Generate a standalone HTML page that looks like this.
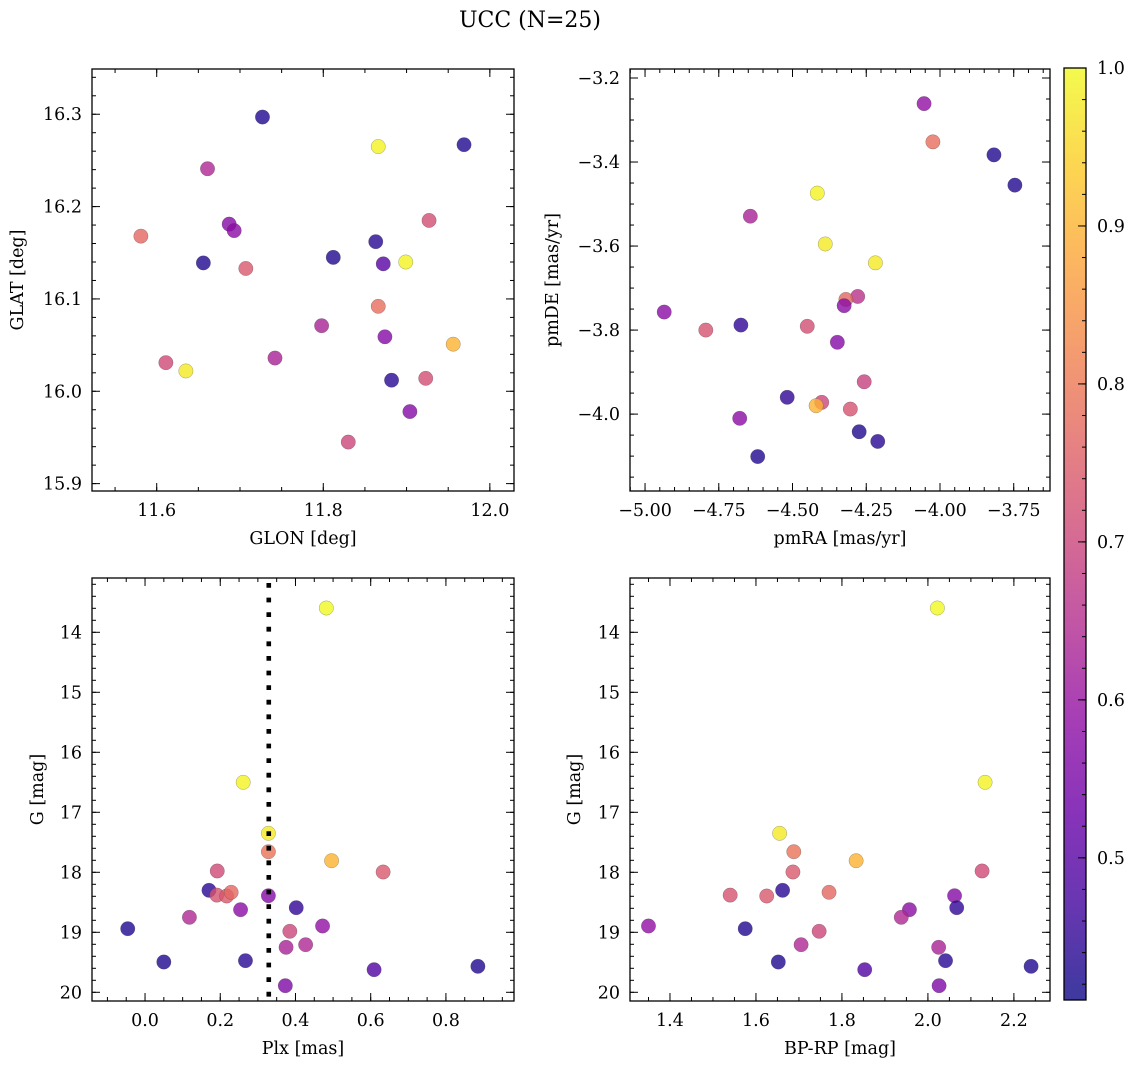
<!DOCTYPE html>
<html>
<head>
<meta charset="utf-8">
<style>
  html,body{margin:0;padding:0;background:#fff;}
  body{width:1136px;height:1068px;overflow:hidden;}
  svg text{font-family:"DejaVu Serif","Liberation Serif",serif;fill:#000;}
</style>
</head>
<body>
<svg id="fig" width="1136" height="1068" viewBox="0 0 1136 1068" xmlns="http://www.w3.org/2000/svg">
  <defs>
    <linearGradient id="plasmaGrad" x1="0" y1="1" x2="0" y2="0">
      <stop offset="0" stop-color="#0d0887"/>
      <stop offset="0.1" stop-color="#41049d"/>
      <stop offset="0.2" stop-color="#6a00a8"/>
      <stop offset="0.3" stop-color="#8f0da4"/>
      <stop offset="0.4" stop-color="#b12a90"/>
      <stop offset="0.5" stop-color="#cc4778"/>
      <stop offset="0.6" stop-color="#e16462"/>
      <stop offset="0.7" stop-color="#f2844b"/>
      <stop offset="0.8" stop-color="#fca636"/>
      <stop offset="0.9" stop-color="#fcce25"/>
      <stop offset="1" stop-color="#f0f921"/>
    </linearGradient>
  </defs>
  <text x="530" y="27" font-size="22" text-anchor="middle">UCC (N=25)</text>
</svg>
<script>
// ---- data: sky panel ----
const glon = [11.727,11.866,11.969,11.661,11.581,11.687,11.693,11.656,11.707,11.812,11.863,11.927,11.872,11.899,11.866,11.798,11.874,11.611,11.635,11.742,11.956,11.882,11.923,11.904,11.830];
const glat = [16.297,16.265,16.267,16.241,16.168,16.181,16.174,16.139,16.133,16.145,16.162,16.185,16.138,16.140,16.092,16.071,16.059,16.031,16.022,16.036,16.051,16.012,16.014,15.978,15.945];
const probSky = [0.43,0.99,0.43,0.64,0.77,0.57,0.58,0.43,0.74,0.43,0.44,0.72,0.50,0.99,0.78,0.63,0.57,0.71,0.98,0.63,0.90,0.44,0.72,0.57,0.70];
// ---- data: proper motion panel ----
const pmra = [-4.054,-4.024,-3.817,-3.746,-4.416,-4.643,-4.389,-4.219,-4.279,-4.319,-4.325,-4.935,-4.794,-4.675,-4.450,-4.348,-4.257,-4.518,-4.401,-4.420,-4.304,-4.679,-4.274,-4.211,-4.618];
const pmde = [-3.261,-3.352,-3.383,-3.455,-3.474,-3.529,-3.595,-3.640,-3.720,-3.727,-3.742,-3.757,-3.800,-3.788,-3.791,-3.829,-3.923,-3.960,-3.972,-3.980,-3.988,-4.010,-4.042,-4.065,-4.101];
const probPm = [0.59,0.78,0.43,0.43,0.99,0.63,0.98,0.98,0.66,0.77,0.58,0.58,0.73,0.45,0.72,0.57,0.69,0.45,0.70,0.90,0.73,0.58,0.43,0.44,0.43];
// ---- data: CMD panels (shared star order) ----
const plx  = [0.482,0.261,0.328,0.328,0.496,0.192,0.633,0.170,0.191,0.217,0.229,0.328,0.402,0.254,0.118,-0.046,0.472,0.385,0.427,0.375,0.050,0.267,0.609,0.885,0.373];
const bprp = [2.022,2.133,1.655,1.688,1.833,2.126,1.686,1.662,1.540,1.625,1.770,2.062,2.067,1.957,1.938,1.575,1.350,1.747,1.705,2.025,1.652,2.041,1.853,2.240,2.026];
const gmag = [13.595,16.50,17.35,17.657,17.807,17.978,17.995,18.30,18.38,18.395,18.333,18.39,18.59,18.623,18.75,18.94,18.895,18.983,19.207,19.25,19.495,19.473,19.623,19.567,19.89];
const probCmd = [1.0,0.99,0.98,0.79,0.90,0.71,0.74,0.44,0.73,0.74,0.77,0.57,0.45,0.58,0.64,0.43,0.59,0.70,0.64,0.63,0.43,0.44,0.49,0.43,0.56];
const plxMedian = [0.329];
// ---- colorbar ----
const cbarTicks = [0.5,0.6,0.7,0.8,0.9,1.0];
const cbarRange = [0.41,1.0];

const NS = 'http://www.w3.org/2000/svg';
const svg = document.getElementById('fig');
const stops = [[13,8,135],[65,4,157],[106,0,168],[143,13,164],[177,42,144],[204,71,120],[225,100,98],[242,132,75],[252,166,54],[252,206,37],[240,249,33]];
function cmap(v){
  let t=(v-cbarRange[0])/(cbarRange[1]-cbarRange[0]); t=Math.max(0,Math.min(1,t));
  const f=t*10, i=Math.min(9,Math.floor(f)), r=f-i;
  const c=stops[i].map((a,k)=>Math.round(a+(stops[i+1][k]-a)*r));
  return 'rgb('+c.join(',')+')';
}
function mk(tag, attrs, parent){
  const e=document.createElementNS(NS,tag);
  for(const k in attrs) e.setAttribute(k,attrs[k]);
  (parent||svg).appendChild(e); return e;
}
function fmt(v,d){ const s=Math.abs(v).toFixed(d); return (v<0 && parseFloat(s)!==0?'\u2212':'')+s; }
function ticks(lo,hi,step){
  const a=[]; const s=Math.ceil(Math.min(lo,hi)/step-1e-6), e=Math.floor(Math.max(lo,hi)/step+1e-6);
  for(let i=s;i<=e;i++) a.push(+(i*step).toFixed(6)); return a;
}

function panel(cfg){
  const g=mk('g',{});
  
  
  const b=cfg.box;
  const sx=v=>b.x0+(v-cfg.xlim[0])/(cfg.xlim[1]-cfg.xlim[0])*(b.x1-b.x0);
  const sy=v=>b.y0+(v-cfg.ylim[0])/(cfg.ylim[1]-cfg.ylim[0])*(b.y1-b.y0);
  // points
  for(let i=0;i<cfg.xs.length;i++){
    const c=mk('circle',{cx:sx(cfg.xs[i]),cy:sy(cfg.ys[i]),r:7.2,fill:cmap(cfg.cs[i]),'fill-opacity':0.8,stroke:'rgba(60,60,60,0.45)','stroke-width':0.5},g);
    
    
  }
  // vertical line (on top of points)
  if(cfg.vline){
    const l=mk('line',{x1:sx(cfg.vline),x2:sx(cfg.vline),y1:b.y0+5,y2:b.y1,stroke:'#000','stroke-width':4.6,'stroke-dasharray':'4.8 9.8'},g);
    
    
  }
  // frame
  const fr=mk('rect',{x:b.x0,y:b.y0,width:b.x1-b.x0,height:b.y1-b.y0,fill:'none',stroke:'#000','stroke-width':1.3},g);
  
  
  // x ticks
  ticks(cfg.xlim[0],cfg.xlim[1],cfg.xminor).forEach(v=>{
    const x=sx(v);
    mk('line',{x1:x,x2:x,y1:b.y1,y2:b.y1-4,stroke:'#000','stroke-width':1},g);
    mk('line',{x1:x,x2:x,y1:b.y0,y2:b.y0+4,stroke:'#000','stroke-width':1},g);
  });
  ticks(cfg.xlim[0],cfg.xlim[1],cfg.xmajor).forEach(v=>{
    const x=sx(v);
    mk('line',{x1:x,x2:x,y1:b.y1,y2:b.y1-8,stroke:'#000','stroke-width':1},g);
    mk('line',{x1:x,x2:x,y1:b.y0,y2:b.y0+8,stroke:'#000','stroke-width':1},g);
    const t=mk('text',{x:x,y:b.y1+25,'font-size':17.5,'text-anchor':'middle'},g);
    t.textContent=fmt(v,cfg.xdec);
    
    
  });
  ticks(cfg.ylim[0],cfg.ylim[1],cfg.yminor).forEach(v=>{
    const y=sy(v);
    mk('line',{x1:b.x0,x2:b.x0+4,y1:y,y2:y,stroke:'#000','stroke-width':1},g);
    mk('line',{x1:b.x1,x2:b.x1-4,y1:y,y2:y,stroke:'#000','stroke-width':1},g);
  });
  ticks(cfg.ylim[0],cfg.ylim[1],cfg.ymajor).forEach(v=>{
    const y=sy(v);
    mk('line',{x1:b.x0,x2:b.x0+8,y1:y,y2:y,stroke:'#000','stroke-width':1},g);
    mk('line',{x1:b.x1,x2:b.x1-8,y1:y,y2:y,stroke:'#000','stroke-width':1},g);
    const t=mk('text',{x:b.x0-10,y:y+6,'font-size':17.5,'text-anchor':'end'},g);
    t.textContent=fmt(v,cfg.ydec);
    
    
  });
  const xl=mk('text',{x:(b.x0+b.x1)/2,y:b.y1+53,'font-size':17.5,'text-anchor':'middle'},g);
  xl.textContent=cfg.xlabel;
  
  
  const yl=mk('text',{x:0,y:0,'font-size':17.5,'text-anchor':'middle',transform:'translate('+cfg.ylx+','+((b.y0+b.y1)/2)+') rotate(-90)'},g);
  yl.textContent=cfg.ylabel;
  
  
}

panel({name:'sky-panel',box:{x0:92,y0:69,x1:514,y1:491},xlim:[11.5223,12.029],ylim:[16.349,15.892],
  xs:glon,ys:glat,cs:probSky,xmajor:0.2,xminor:0.05,ymajor:0.1,yminor:0.02,xdec:1,ydec:1,
  xlabel:'GLON [deg]',ylabel:'GLAT [deg]',ylx:23});
panel({name:'proper-motion-panel',box:{x0:630,y0:69,x1:1050,y1:491},xlim:[-5.051,-3.627],ylim:[-3.1786,-4.183],
  xs:pmra,ys:pmde,cs:probPm,xmajor:0.25,xminor:0.05,ymajor:0.2,yminor:0.05,xdec:2,ydec:1,
  xlabel:'pmRA [mas/yr]',ylabel:'pmDE [mas/yr]',ylx:558});
panel({name:'parallax-panel',box:{x0:92,y0:578,x1:514,y1:1001},xlim:[-0.141,0.981],ylim:[13.095,20.145],
  xs:plx,ys:gmag,cs:probCmd,xmajor:0.2,xminor:0.05,ymajor:1,yminor:0.2,xdec:1,ydec:0,
  xlabel:'Plx [mas]',ylabel:'G [mag]',ylx:43,vline:plxMedian[0]});
panel({name:'cmd-panel',box:{x0:630,y0:578,x1:1050,y1:1001},xlim:[1.307,2.284],ylim:[13.095,20.145],
  xs:bprp,ys:gmag,cs:probCmd,xmajor:0.2,xminor:0.05,ymajor:1,yminor:0.2,xdec:1,ydec:0,
  xlabel:'BP-RP [mag]',ylabel:'G [mag]',ylx:580});

// colorbar
(function(){
  const g=mk('g',{});
  
  
  const x0=1064,x1=1086,y0=68,y1=1000;
  mk('rect',{x:x0,y:y0,width:x1-x0,height:y1-y0,fill:'url(#plasmaGrad)','fill-opacity':0.8},g);
  mk('rect',{x:x0,y:y0,width:x1-x0,height:y1-y0,fill:'none',stroke:'#000','stroke-width':1.3},g);
  const sy=v=>y1-(v-cbarRange[0])/(cbarRange[1]-cbarRange[0])*(y1-y0);
  ticks(cbarRange[0],cbarRange[1],0.02).forEach(v=>{
    mk('line',{x1:x1,x2:x1-4,y1:sy(v),y2:sy(v),stroke:'#000','stroke-width':1},g);
  });
  cbarTicks.forEach(v=>{
    const y=sy(v);
    mk('line',{x1:x1,x2:x1-8,y1:y,y2:y,stroke:'#000','stroke-width':1},g);
    const t=mk('text',{x:x1+11,y:y+6,'font-size':17.5,'text-anchor':'start'},g);
    t.textContent=v.toFixed(1);
    
    
  });
})();
</script>
</body>
</html>
